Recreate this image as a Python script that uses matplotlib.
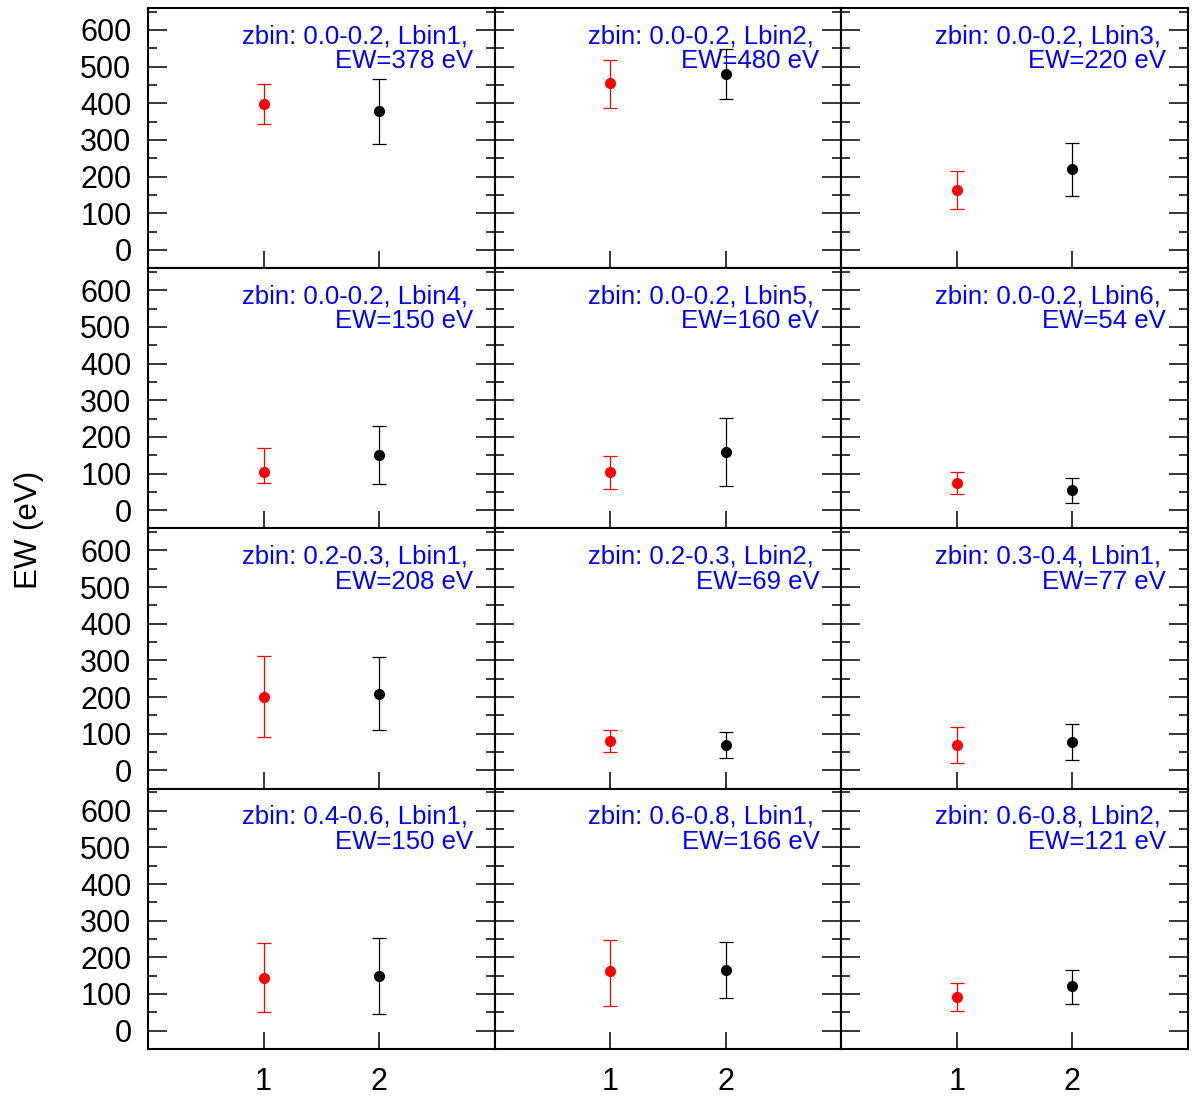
import matplotlib.pyplot as plt
from matplotlib.ticker import MultipleLocator
import numpy as np

plt.rcParams['font.family'] = ['Liberation Sans', 'DejaVu Sans']

zbins = ["0.0-0.2", "0.0-0.2", "0.0-0.2", "0.0-0.2", "0.0-0.2", "0.0-0.2",
         "0.2-0.3", "0.2-0.3", "0.3-0.4", "0.4-0.6", "0.6-0.8", "0.6-0.8"]
lbins = [1, 2, 3, 4, 5, 6, 1, 2, 1, 1, 1, 2]
ew_labels = [378, 480, 220, 150, 160, 54, 208, 69, 77, 150, 166, 121]

# point 1 (red): value, lower end, upper end
red_val = [398, 455, 164, 104, 104, 74, 201, 79, 70, 143, 163, 92]
red_lo = [344, 388, 111, 73, 57, 44, 92, 50, 21, 51, 66, 54]
red_hi = [452, 519, 216, 169, 148, 104, 312, 110, 118, 238, 248, 131]

# point 2 (black)
blk_val = [378, 480, 220, 150, 160, 54, 208, 69, 77, 150, 166, 121]
blk_lo = [289, 413, 147, 70, 66, 19, 110, 35, 29, 46, 88, 74]
blk_hi = [466, 547, 292, 230, 252, 89, 308, 104, 126, 252, 243, 165]

fig, axes = plt.subplots(4, 3, figsize=(11.92, 10.97), dpi=100)
fig.subplots_adjust(left=0.1242, right=0.9966, top=0.9927, bottom=0.0438,
                    hspace=0, wspace=0)

for i, ax in enumerate(axes.flat):
    row, col = divmod(i, 3)
    ax.errorbar([1], [red_val[i]],
                yerr=[[red_val[i] - red_lo[i]], [red_hi[i] - red_val[i]]],
                fmt='o', color='red', ms=7, elinewidth=0.9, capsize=5, capthick=0.9)
    ax.errorbar([2], [blk_val[i]],
                yerr=[[blk_val[i] - blk_lo[i]], [blk_hi[i] - blk_val[i]]],
                fmt='o', color='black', ms=7, elinewidth=0.9, capsize=5, capthick=0.9)
    ax.set_xlim(0, 3)
    ax.set_ylim(-50, 660)
    ax.set_xticks([1, 2])
    ax.yaxis.set_major_locator(MultipleLocator(100))
    ax.yaxis.set_minor_locator(MultipleLocator(50))
    ax.set_yticks(np.arange(0, 700, 100))
    ax.tick_params(axis='y', which='major', direction='in', length=13.5, width=1.1,
                   left=True, right=True, labelsize=22, pad=12)
    ax.tick_params(axis='y', which='minor', direction='in', length=6.5, width=1.1,
                   left=True, right=True)
    ax.tick_params(axis='x', which='major', direction='in', length=12, width=1.1,
                   bottom=True, top=False, labelsize=22, pad=13)
    if col != 0:
        ax.tick_params(axis='y', labelleft=False)
    if row != 3:
        ax.tick_params(axis='x', labelbottom=False)
    for s in ax.spines.values():
        s.set_linewidth(1.5)
    ax.text(0.922, 0.865, "zbin: %s, Lbin%d," % (zbins[i], lbins[i]),
            transform=ax.transAxes, ha='right', va='baseline',
            color='blue', fontsize=18.5)
    ax.text(0.937, 0.769, "EW=%d eV" % ew_labels[i],
            transform=ax.transAxes, ha='right', va='baseline',
            color='blue', fontsize=18.5)

fig.text(0.024, 0.517, "EW (eV)", rotation=90, ha='center', va='center', fontsize=22.5)

plt.savefig("out.png")
